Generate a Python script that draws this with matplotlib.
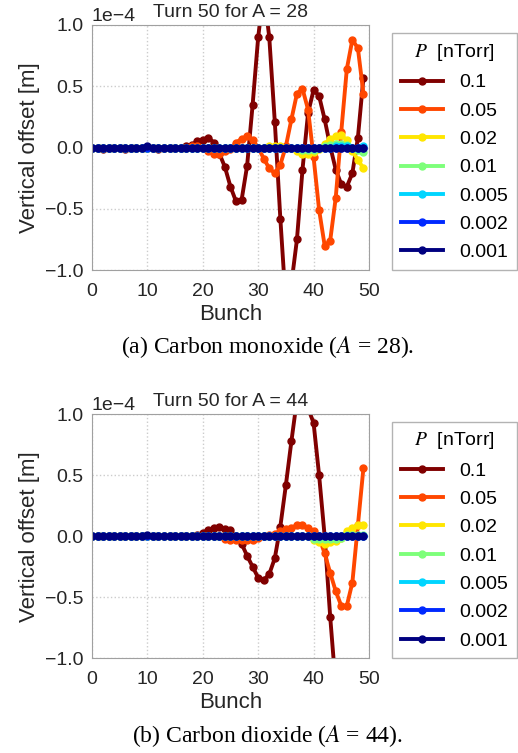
import numpy as np
import matplotlib
matplotlib.use('Agg')
import matplotlib.pyplot as plt

plt.rcParams['font.family'] = ['Liberation Sans', 'DejaVu Sans']
plt.rcParams['mathtext.fontset'] = 'stix'

bunch = np.arange(50)
pressures = ['0.1', '0.05', '0.02', '0.01', '0.005', '0.002', '0.001']

# Turn 50, A = 28 (units of 1e-4 m)
co_01 = [0, 0, -0.01, 0, 0, 0, -0.01, 0, 0, 0, 0, 0, -0.01, 0, 0, 0, 0,
         0.01, 0.02, 0.05, 0.06, 0.08, 0.04, -0.05, -0.16, -0.32, -0.44, -0.43, -0.15, 0.35,
         0.90, 1.28, 0.90, 0.21, -0.58, -1.28, -1.11, -0.75, -0.18, 0.28,
         0.47, 0.42, 0.23, 0.01, -0.18, -0.30, -0.32, -0.21, 0.08, 0.57]
co_005 = [0, 0, 0, 0, 0, 0, 0, 0, 0, 0, 0, 0, 0, 0, 0, 0, 0, 0, 0.01, 0.01,
          0.0, -0.03, -0.05, -0.05, -0.03, -0.01, 0.04, 0.07, 0.09, 0.06,
          0.0, -0.09, -0.17, -0.21, -0.14, 0.01, 0.23, 0.44, 0.48, 0.31,
          -0.08, -0.51, -0.80, -0.76, -0.41, 0.13, 0.64, 0.88, 0.81, 0.44]
co_002 = [0, 0, 0, 0, 0, 0, 0, 0, 0, 0, 0, 0, 0, 0, 0, 0, 0, 0, 0, 0,
          0, 0, 0, 0, 0, 0, 0, 0, 0, 0, 0, 0, 0.01, 0.01, 0.01, 0, 0, -0.03, -0.05, -0.05,
          -0.04, -0.01, 0.03, 0.07, 0.09, 0.10, 0.06, -0.03, -0.10, -0.17]
co_001 = [0] * 38 + [-0.02, -0.02, -0.02, 0, 0.01, 0.02, 0.03, 0.03, 0.02, 0.0, -0.02, -0.04]
co_0005 = [0] * 44 + [0.01, 0.01, 0.01, 0, 0, 0.01]
co_0002 = [0] * 50
co_0001 = [0] * 10 + [0.01] + [0] * 39

# Turn 50, A = 44 (units of 1e-4 m)
co2_01 = [0, 0, 0, 0, 0, 0, 0, 0, 0, 0, 0, 0, 0, 0, 0, 0, 0, 0, 0, 0.01,
          0.03, 0.05, 0.07, 0.08, 0.06, 0.05, -0.01, -0.06, -0.16, -0.25,
          -0.34, -0.36, -0.31, -0.18, 0.08, 0.42, 0.78, 1.12, 1.20, 1.05,
          0.93, 0.50, 0.0, -0.66, -1.23, -1.7, -2.0, -2.1, -1.9, -1.5]
co2_005 = [0, 0, 0, 0, 0, 0, 0, 0, 0, 0, 0, 0, 0, 0, 0, 0, 0, 0, 0, 0,
           0, 0, 0, 0, -0.02, -0.03, -0.03, -0.03, -0.03, -0.03,
           -0.01, 0.0, 0.01, 0.02, 0.04, 0.06, 0.07, 0.09, 0.09, 0.07,
           0.04, -0.01, -0.14, -0.30, -0.45, -0.57, -0.57, -0.38, 0.09, 0.56]
co2_002 = [0] * 40 + [-0.03, -0.05, -0.06, -0.05, -0.04, -0.01, 0.04, 0.07, 0.09, 0.09]
co2_001 = [0] * 40 + [-0.02, -0.02, -0.02, -0.02, -0.02, -0.01, 0.01, 0.01, 0.01, 0.01]
co2_0005 = [0] * 50
co2_0002 = [0] * 50
co2_0001 = [0] * 10 + [0.01] + [0] * 39

panels = [
    ('Turn 50 for A = 28', [co_01, co_005, co_002, co_001, co_0005, co_0002, co_0001],
     '(a) Carbon monoxide ($A$ = 28).'),
    ('Turn 50 for A = 44', [co2_01, co2_005, co2_002, co2_001, co2_0005, co2_0002, co2_0001],
     '(b) Carbon dioxide ($A$ = 44).'),
]

colors = plt.cm.jet(np.linspace(1, 0, len(pressures)))

fig = plt.figure(figsize=(5.18, 7.53), dpi=100)
ax_rects = [[0.1776, 0.6414, 0.5347, 0.3254], [0.1776, 0.1258, 0.5347, 0.3240]]
caption_y = [0.539, 0.0226]

for rect, (title, series, caption), cy in zip(ax_rects, panels, caption_y):
    ax = fig.add_axes(rect)
    for vals, c, p in zip(series, colors, pressures):
        ax.plot(bunch, np.array(vals) * 1e-4, '-o', color=c, lw=2.8, ms=5, label=p)
    ax.set_xlim(0, 50)
    ax.set_ylim(-1e-4, 1e-4)
    ax.set_xticks([0, 10, 20, 30, 40, 50])
    ax.set_yticks(np.array([-1.0, -0.5, 0.0, 0.5, 1.0]) * 1e-4)
    ax.ticklabel_format(axis='y', style='sci', scilimits=(0, 0))
    ax.yaxis.get_offset_text().set_fontsize(14)
    ax.tick_params(axis='y', labelsize=14, length=0, pad=6, colors='#262626')
    ax.tick_params(axis='x', labelsize=14, length=0, pad=9, colors='#262626')
    ax.grid(True, linestyle=':', color='#cccccc', lw=1)
    for s in ax.spines.values():
        s.set_color('#a0a0a0')
    ax.set_title(title, fontsize=14, pad=6, color='#262626')
    ax.set_xlabel('Bunch', fontsize=16, labelpad=3, color='#262626')
    ax.set_ylabel('Vertical offset [m]', fontsize=16, color='#262626')
    leg = ax.legend(title='$P$  [nTorr]', loc='lower left', bbox_to_anchor=(1.083, 0.0),
                    borderaxespad=0, fontsize=14, title_fontsize=14, numpoints=1,
                    fancybox=False, handlelength=2.2, handletextpad=0.8,
                    labelspacing=0.55, borderpad=0.45)
    leg.get_frame().set_edgecolor('#a0a0a0')
    fig.text(0.517, cy, caption, ha='center', va='center', fontsize=17,
             family=['Liberation Serif', 'DejaVu Serif'])

fig.savefig('out.png', dpi=100)
